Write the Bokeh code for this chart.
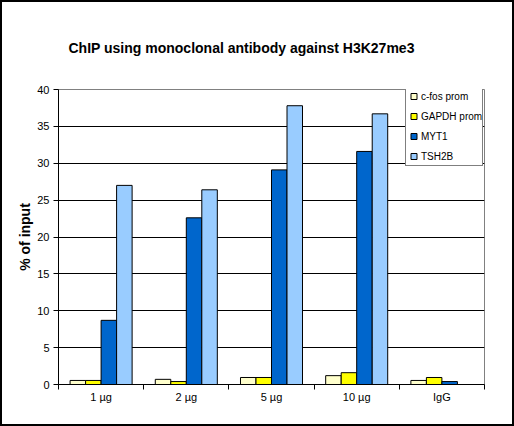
import numpy as np
from bokeh.plotting import figure
from bokeh.models import (ColumnDataSource, Range1d, FixedTicker, Legend, LegendItem)
from bokeh.transform import dodge
from bokeh.embed import file_html
from bokeh.resources import INLINE

# ---- data ----
categories = ["1 µg", "2 µg", "5 µg", "10 µg", "IgG"]
series_names = ["c-fos prom", "GAPDH prom", "MYT1", "TSH2B"]
cfos = [0.55, 0.7, 0.95, 1.2, 0.55]
gapdh = [0.55, 0.4, 0.95, 1.6, 0.95]
myt1 = [8.7, 22.6, 29.1, 31.6, 0.4]
tsh2b = [27.0, 26.4, 37.8, 36.7, 0.0]
colors = ["#FFFFCC", "#FFFF00", "#0066CC", "#99CCFF"]
y_ticks = [0, 5, 10, 15, 20, 25, 30, 35, 40]
title_text = "ChIP using monoclonal antibody against H3K27me3"
y_label = "% of input"

FONT = "Liberation Sans"

src = ColumnDataSource(dict(
    x=np.arange(len(categories)) + 0.5,
    cfos=cfos, gapdh=gapdh, myt1=myt1, tsh2b=tsh2b,
))

p = figure(width=514, height=426, output_backend="svg", toolbar_location=None,
           x_range=Range1d(0, len(categories)), y_range=Range1d(0, 40),
           min_border_left=56, min_border_right=32, min_border_top=87,
           min_border_bottom=44, title=title_text)
p.styles = {"border": "2px solid black"}
p.background_fill_color = "white"
p.border_fill_color = "white"
p.outline_line_color = "#808080"
p.outline_line_width = 1

p.title.text_font = FONT
p.title.text_font_size = "14px"
p.title.text_font_style = "bold"
p.title.text_color = "black"
p.title.align = "left"
p.title.offset = 10
p.title.standoff = 67

bw = 0.182
fields = ["cfos", "gapdh", "myt1", "tsh2b"]
for k, (f, c) in enumerate(zip(fields, colors)):
    p.vbar(x=dodge("x", (k - 1.5) * bw, range=p.x_range), top=f, width=bw,
           bottom=0, source=src, fill_color=c, line_color="black", line_width=1)

# legend proxies (square markers placed outside the visible range)
items = []
for name, c in zip(series_names, colors):
    s = p.scatter(x=[-10], y=[-10], marker="square", fill_color=c, line_color="black",
                  line_width=1)
    items.append(LegendItem(label=name, renderers=[s]))

legend = Legend(items=items, location=(347, 218), padding=0, spacing=2,
                label_height=18, glyph_height=18, glyph_width=15, label_standoff=0,
                label_width=60, label_text_font=FONT, label_text_font_size="10px",
                label_text_color="black", border_line_color="black",
                border_line_width=1, background_fill_color="white",
                background_fill_alpha=1.0, margin=0)
p.add_layout(legend, "center")

# x axis
xa = p.xaxis[0]
xa.ticker = FixedTicker(ticks=list(np.arange(len(categories)) + 0.5),
                        minor_ticks=list(range(len(categories) + 1)))
xa.major_label_overrides = {float(i + 0.5): c for i, c in enumerate(categories)}
xa.major_tick_line_color = None
xa.major_tick_out = 0
xa.major_tick_in = 0
xa.minor_tick_line_color = "black"
xa.minor_tick_out = 5
xa.minor_tick_in = 0
xa.axis_line_color = "black"
xa.major_label_text_font = FONT
xa.major_label_text_font_size = "11px"
xa.major_label_text_color = "black"
xa.major_label_standoff = 1

# y axis
ya = p.yaxis[0]
ya.ticker = FixedTicker(ticks=y_ticks)
ya.major_tick_out = 5
ya.major_tick_in = 0
ya.minor_tick_line_color = None
ya.major_tick_line_color = "black"
ya.axis_line_color = "black"
ya.major_label_text_font = FONT
ya.major_label_text_font_size = "11px"
ya.major_label_text_color = "black"
ya.major_label_standoff = 4
ya.axis_label = y_label
ya.axis_label_text_font = FONT
ya.axis_label_text_font_size = "14px"
ya.axis_label_text_font_style = "bold"
ya.axis_label_text_color = "black"
ya.axis_label_standoff = 1

p.xgrid.grid_line_color = None
p.ygrid.ticker = FixedTicker(ticks=y_ticks[1:-1])
p.ygrid.grid_line_color = "black"
p.ygrid.grid_line_width = 1

open("out.html", "w").write(file_html(p, INLINE))
